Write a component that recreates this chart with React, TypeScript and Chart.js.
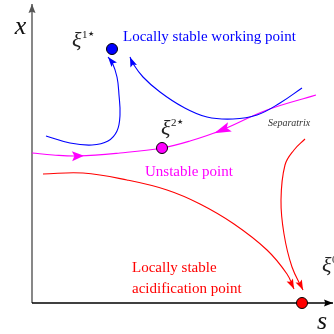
import React, { useEffect, useRef } from "react";
import { Chart, registerables } from "chart.js";
Chart.register(...registerables);

// Phase plane coordinates: s (horizontal), x (vertical), origin at the axes' corner
const blueLeftCurve = [
  { x: 14, y: 167 }, { x: 38, y: 160 }, { x: 60, y: 158 }, { x: 76, y: 162 },
  { x: 85, y: 172 }, { x: 88, y: 188 }, { x: 87, y: 208 }, { x: 85, y: 226 },
  { x: 80, y: 241 }, { x: 76, y: 246 },
];
const blueRightCurve = [
  { x: 270, y: 215 }, { x: 248, y: 200 }, { x: 225, y: 188 }, { x: 201, y: 184 },
  { x: 175, y: 186 }, { x: 151, y: 196 }, { x: 128, y: 211 }, { x: 111, y: 226 },
  { x: 100, y: 241 }, { x: 98, y: 246 },
];
const separatrix = [
  { x: 0, y: 150 }, { x: 21, y: 148 }, { x: 46, y: 147 }, { x: 88, y: 150 },
  { x: 130, y: 155 }, { x: 158, y: 162 }, { x: 190, y: 173 }, { x: 235, y: 193 },
  { x: 284, y: 208 },
];
const redLongCurve = [
  { x: 11, y: 129 }, { x: 51, y: 130 }, { x: 95, y: 123 }, { x: 135, y: 113 },
  { x: 168, y: 99 }, { x: 202, y: 79 }, { x: 235, y: 53 }, { x: 255, y: 29 },
  { x: 262, y: 14 },
];
const redShortCurve = [
  { x: 273, y: 164 }, { x: 262, y: 153 }, { x: 253, y: 138 }, { x: 249, y: 103 },
  { x: 252, y: 69 }, { x: 260, y: 36 }, { x: 271, y: 13 },
];
const sAxis = [{ x: 0, y: 0 }, { x: 301, y: 0 }];
const xAxis = [{ x: 0, y: 0 }, { x: 0, y: 299 }];

const workingPoint = [{ x: 80, y: 254 }];
const unstablePoint = [{ x: 130, y: 155 }];
const acidPoint = [{ x: 270, y: 0 }];

const textLabels = [
  { text: "Locally stable working point", s: 91, x: 266, kind: "blue" },
  { text: "Unstable point", s: 113, x: 131, kind: "magenta" },
  { text: "Separatrix", s: 236, x: 180, kind: "small" },
  { text: "Locally stable", s: 100, x: 35, kind: "red" },
  { text: "acidification point", s: 100, x: 14, kind: "red" },
];
const xiLabels = [
  { main: "ξ", sup: "1", s: 40, x: 262 },
  { main: "ξ", sup: "2", s: 129, x: 174 },
  { main: "ξ", sup: "0", s: 290, x: 37 },
];
const axisLabels = [
  { text: "x", s: -11.5, x: 276 },
  { text: "s", s: 290, x: -19 },
];

function drawHead(ctx: CanvasRenderingContext2D, tx: number, ty: number, dx: number, dy: number, L: number, W: number, color: string, notch: number) {
  const len = Math.hypot(dx, dy) || 1;
  const ux = dx / len, uy = dy / len;
  const nx = -uy, ny = ux;
  ctx.save();
  ctx.fillStyle = color;
  ctx.beginPath();
  ctx.moveTo(tx, ty);
  ctx.lineTo(tx - L * ux + W * nx, ty - L * uy + W * ny);
  ctx.lineTo(tx - notch * L * ux, ty - notch * L * uy);
  ctx.lineTo(tx - L * ux - W * nx, ty - L * uy - W * ny);
  ctx.closePath();
  ctx.fill();
  ctx.restore();
}

const arrowPlugin = {
  id: "arrowHeads",
  afterDatasetsDraw(chart: any) {
    const ctx = chart.ctx;
    chart.data.datasets.forEach((ds: any, i: number) => {
      const meta = chart.getDatasetMeta(i);
      const pts = meta.data;
      if (!pts || pts.length < 2) return;
      if (ds.arrowEnd) {
        const last = pts[pts.length - 1];
        const prev = pts[pts.length - 2];
        let dx = last.x - (last.cp1x ?? prev.x);
        let dy = last.y - (last.cp1y ?? prev.y);
        if (Math.hypot(dx, dy) < 0.5) { dx = last.x - prev.x; dy = last.y - prev.y; }
        drawHead(ctx, last.x, last.y, dx, dy, ds.arrowEnd.length, ds.arrowEnd.width, ds.borderColor, ds.arrowEnd.notch);
      }
      if (ds.midArrows) {
        ds.midArrows.forEach((m: any) => {
          const p = pts[m.index];
          const a = pts[m.index - 1], b = pts[m.index + 1];
          let dx = (p.cp2x ?? b.x) - (p.cp1x ?? a.x);
          let dy = (p.cp2y ?? b.y) - (p.cp1y ?? a.y);
          dx *= m.dir; dy *= m.dir;
          const len = Math.hypot(dx, dy) || 1;
          const L = m.length;
          const tx = p.x + (dx / len) * L / 2;
          const ty = p.y + (dy / len) * L / 2;
          drawHead(ctx, tx, ty, dx, dy, L, m.width, ds.borderColor, 0.8);
        });
      }
    });
  },
};

const SERIF = '"Liberation Serif", "DejaVu Serif", serif';

const labelPlugin = {
  id: "labels",
  afterDatasetsDraw(chart: any) {
    const ctx = chart.ctx;
    const xs = chart.scales.x, ys = chart.scales.y;
    ctx.save();
    ctx.textBaseline = "middle";
    const colors: any = { blue: "#0000ff", magenta: "#ff00ff", red: "#ff0000", small: "#333333" };
    textLabels.forEach((l) => {
      ctx.fillStyle = colors[l.kind];
      ctx.font = l.kind === "small" ? `italic 10px ${SERIF}` : `15px ${SERIF}`;
      ctx.textAlign = "left";
      ctx.fillText(l.text, xs.getPixelForValue(l.s), ys.getPixelForValue(l.x));
    });
    xiLabels.forEach((l) => {
      const px = xs.getPixelForValue(l.s), py = ys.getPixelForValue(l.x);
      ctx.fillStyle = "#222222";
      ctx.textAlign = "left";
      ctx.font = `italic 22px ${SERIF}`;
      ctx.fillText(l.main, px, py);
      const w = ctx.measureText(l.main).width;
      ctx.font = `11px ${SERIF}`;
      ctx.fillText(l.sup, px + w + 0.5, py - 6);
      const w2 = ctx.measureText(l.sup).width;
      ctx.font = `7px "DejaVu Sans", sans-serif`;
      ctx.fillText("★", px + w + 1 + w2, py - 6.5);
    });
    axisLabels.forEach((l) => {
      ctx.fillStyle = "#111111";
      ctx.textAlign = "center";
      ctx.font = `italic 26px ${SERIF}`;
      ctx.fillText(l.text, xs.getPixelForValue(l.s), ys.getPixelForValue(l.x));
    });
    ctx.restore();
  },
};

export default function App() {
  const ref = useRef<HTMLCanvasElement>(null);
  useEffect(() => {
    document.body.style.margin = "0";
    const curve = (data: any, color: string, extra: any = {}) => ({
      data,
      showLine: true,
      borderColor: color,
      borderWidth: 1.1,
      pointRadius: 0,
      tension: 0.4,
      fill: false,
      clip: false,
      order: 5,
      ...extra,
    });
    const dot = (data: any, color: string) => ({
      data,
      showLine: false,
      pointRadius: 5.5,
      pointBackgroundColor: color,
      pointBorderColor: "#000000",
      pointBorderWidth: 1,
      clip: false,
      order: 1,
    });
    const chart = new Chart(ref.current!, {
      type: "scatter",
      data: {
        datasets: [
          dot(workingPoint, "#0000ff"),
          dot(unstablePoint, "#ff00ff"),
          dot(acidPoint, "#ff0000"),
          curve(blueLeftCurve, "#0000ff", { arrowEnd: { length: 10, width: 3.5, notch: 0.8 } }),
          curve(blueRightCurve, "#0000ff", { arrowEnd: { length: 10, width: 3.5, notch: 0.8 } }),
          curve(separatrix, "#ff00ff", {
            midArrows: [
              { index: 2, dir: 1, length: 12, width: 5 },
              { index: 6, dir: -1, length: 17, width: 5 },
            ],
          }),
          curve(redLongCurve, "#ff0000", { arrowEnd: { length: 10, width: 3.5, notch: 0.8 } }),
          curve(redShortCurve, "#ff0000", { arrowEnd: { length: 10, width: 3.5, notch: 0.8 } }),
          curve(sAxis, "#000000", { tension: 0, borderWidth: 1.4, arrowEnd: { length: 9, width: 3.5, notch: 0.85 } }),
          curve(xAxis, "#555555", { tension: 0, borderWidth: 1.4, arrowEnd: { length: 9, width: 3.5, notch: 0.85 } }),
        ] as any,
      },
      options: {
        animation: false,
        responsive: false,
        events: [],
        layout: { padding: 0, autoPadding: false },
        plugins: { legend: { display: false }, tooltip: { enabled: false } },
        scales: {
          x: { type: "linear", min: -32, max: 302, display: false },
          y: { type: "linear", min: -31, max: 303, display: false },
        },
      },
      plugins: [arrowPlugin, labelPlugin],
    });
    return () => chart.destroy();
  }, []);
  return (
    <div style={{ width: 334, height: 334 }}>
      <canvas ref={ref} width={334} height={334} style={{ display: "block" }} />
    </div>
  );
}
